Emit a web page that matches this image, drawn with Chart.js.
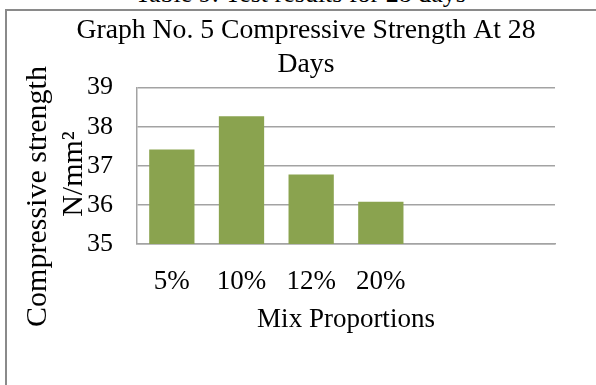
<!DOCTYPE html>
<html>
<head>
<meta charset="utf-8">
<script src="https://cdn.jsdelivr.net/npm/chart.js@4.4.1/dist/chart.umd.min.js"></script>
<style>
  body { margin: 0; width: 596px; height: 385px; overflow: hidden; background: #fff; position: relative; font-family: "Liberation Serif", serif; }
  #caption { position: absolute; left: 135px; top: -19px; font-size: 26px; line-height: 26px; white-space: nowrap; color: #000; }
  #frame { position: absolute; left: 5px; top: 9px; width: 700px; height: 500px; border-left: 2px solid #8a8a8a; border-top: 2px solid #8a8a8a; }
  #wrap { position: absolute; left: 0; top: 0; width: 612px; height: 385px; }
</style>
</head>
<body>
<div id="caption">Table 9: Test results for 28 days</div>
<div id="frame"></div>
<div id="wrap"><canvas id="chart" width="612" height="385"></canvas></div>
<script>
const categories = ["5%", "10%", "12%", "20%", "", ""];
const strength = [37.42, 38.27, 36.78, 36.08, null, null];
const yMin = 35;
const yMax = 39;
const titleLines = ["Graph No. 5 Compressive Strength At 28", "Days"];
const yTitleLines = ["Compressive strength", "N/mm\u00B2"];

const serif = "'Liberation Serif', 'Times New Roman', serif";
const gridGrey = "#a3a3a3";

// y axis title, two lines placed like the original
const yTitlePlugin = {
  id: "yTitle",
  afterDraw(chart) {
    const ctx = chart.ctx;
    const spots = [[46, 196.5], [82, 174]];
    ctx.save();
    ctx.font = "30px " + serif;
    ctx.fillStyle = "#000";
    ctx.textAlign = "center";
    ctx.textBaseline = "alphabetic";
    yTitleLines.forEach((line, i) => {
      ctx.save();
      ctx.translate(spots[i][0], spots[i][1]);
      ctx.rotate(-Math.PI / 2);
      ctx.fillText(line, 0, 0);
      ctx.restore();
    });
    ctx.restore();
  },
};

new Chart(document.getElementById("chart"), {
  type: "bar",
  data: {
    labels: categories,
    datasets: [
      {
        data: strength,
        backgroundColor: "#8aa34f",
        borderWidth: 0,
        categoryPercentage: 1,
        barPercentage: 0.65,
      },
    ],
  },
  options: {
    responsive: false,
    animation: false,
    devicePixelRatio: 1,
    layout: { padding: { left: 57, right: 57, top: 0, bottom: 0 } },
    plugins: {
      legend: { display: false },
      tooltip: { enabled: false },
      title: {
        display: true,
        text: titleLines,
        color: "#000",
        font: { family: serif, size: 27.7, weight: "normal", lineHeight: 1.23 },
        padding: { top: 14, bottom: 5.5 },
      },
    },
    scales: {
      x: {
        grid: { display: false, drawTicks: false },
        border: { display: true, color: gridGrey, width: 1.5 },
        ticks: { color: "#000", padding: 22, maxRotation: 0, autoSkip: false, font: { family: serif, size: 27 } },
        title: {
          display: true,
          text: "Mix Proportions",
          color: "#000",
          font: { family: serif, size: 27 },
          padding: { top: 0, bottom: 48.8 },
        },
        afterFit(scale) { scale.height = 141; },
      },
      y: {
        min: yMin,
        max: yMax,
        grid: { color: gridGrey, lineWidth: 1.5, drawTicks: false },
        border: { display: true, color: gridGrey, width: 1.5 },
        ticks: { stepSize: 1, autoSkip: false, color: "#000", padding: 24, font: { family: serif, size: 26 } },
        afterFit(scale) { scale.width = 80; },
      },
    },
  },
  plugins: [yTitlePlugin],
});
</script>
</body>
</html>
